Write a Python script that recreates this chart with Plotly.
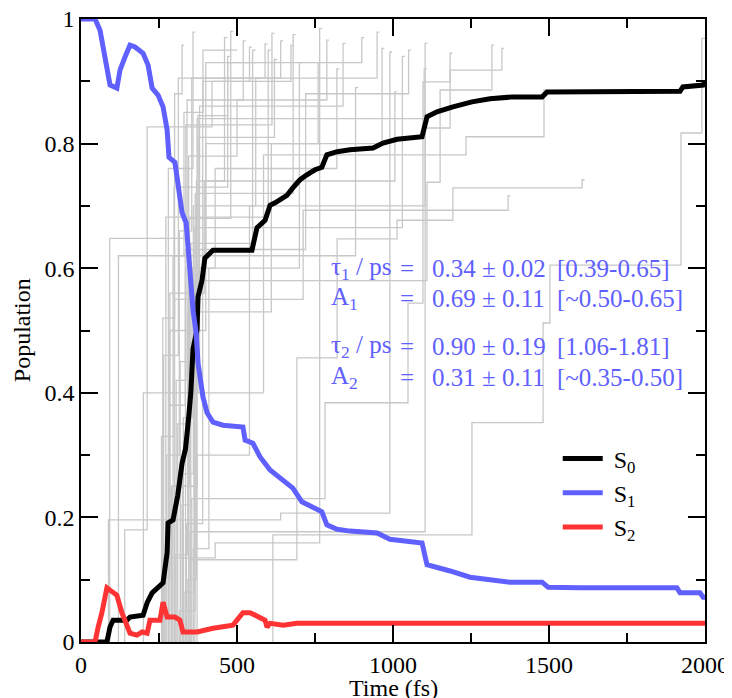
import plotly.graph_objects as go

# population curves (time in fs)
s0_time = [0, 83, 93, 103, 147, 157, 199, 212, 228, 247, 263, 276, 279, 295, 310, 324, 335, 345, 352, 359,
           372, 375, 388, 397, 423, 548, 564, 590, 606, 622, 660, 679, 702, 724, 750, 772, 788, 821, 862,
           936, 968, 1013, 1093, 1109, 1141, 1192, 1253, 1311, 1385, 1478, 1494, 1920, 1929, 1994, 2000]
s0_pop = [0, 0, 0.024, 0.035, 0.035, 0.040, 0.043, 0.063, 0.079, 0.087, 0.095, 0.143, 0.191, 0.196, 0.235,
          0.287, 0.310, 0.360, 0.400, 0.470, 0.501, 0.554, 0.581, 0.616, 0.629, 0.629, 0.665, 0.677, 0.701,
          0.705, 0.717, 0.729, 0.742, 0.750, 0.758, 0.762, 0.782, 0.787, 0.790, 0.793, 0.801, 0.807, 0.811,
          0.843, 0.851, 0.859, 0.867, 0.872, 0.875, 0.875, 0.883, 0.884, 0.891, 0.894, 0.899]

s1_time = [0, 45, 61, 77, 93, 115, 125, 141, 157, 173, 199, 215, 228, 247, 263, 276, 282, 301, 311, 324,
           337, 349, 359, 369, 375, 391, 404, 423, 455, 519, 526, 551, 574, 606, 638, 679, 708, 744, 772,
           788, 821, 862, 949, 990, 1045, 1093, 1109, 1141, 1183, 1247, 1311, 1375, 1478, 1497, 1599,
           1910, 1920, 1984, 1994, 2000]
s1_pop = [1, 1, 0.982, 0.939, 0.894, 0.889, 0.918, 0.939, 0.958, 0.955, 0.945, 0.926, 0.889, 0.878, 0.859,
          0.822, 0.778, 0.770, 0.730, 0.689, 0.673, 0.592, 0.533, 0.496, 0.448, 0.393, 0.368, 0.353, 0.348,
          0.345, 0.324, 0.319, 0.297, 0.276, 0.263, 0.247, 0.225, 0.217, 0.209, 0.188, 0.181, 0.178, 0.175,
          0.165, 0.162, 0.159, 0.124, 0.120, 0.114, 0.104, 0.0995, 0.096, 0.096, 0.088, 0.087, 0.087, 0.079,
          0.079, 0.072, 0.072]

s2_time = [0, 45, 55, 67, 83, 99, 115, 131, 147, 157, 179, 196, 212, 221, 253, 263, 276, 301, 317, 327,
           372, 423, 487, 519, 542, 564, 590, 596, 606, 648, 692, 2000]
s2_pop = [0, 0, 0.024, 0.047, 0.087, 0.080, 0.075, 0.047, 0.024, 0.014, 0.011, 0.016, 0.014, 0.035, 0.035,
          0.064, 0.040, 0.040, 0.035, 0.016, 0.016, 0.022, 0.027, 0.047, 0.047, 0.042, 0.035, 0.024, 0.030,
          0.027, 0.030, 0.030]

# single trajectories (grey staircases): jump times, level after each jump, end time
traj_jumps = [
    [88, 640, 990],
    [92, 336, 612],
    [140, 212, 420, 673],
    [272, 600],
    [615, 1253, 1481, 1503, 1923, 1990],
    [345, 692, 821, 1013, 1192, 1606],
    [300, 712, 1369],
    [260, 430, 765],
    [350, 1103],
    [355, 782, 1048, 1096, 1183],
    [262, 300, 324],
    [280, 359],
    [295, 330, 391],
    [310, 345, 500, 788],
    [318, 380, 840],
    [325, 360, 560, 949],
    [335, 400, 965],
    [340, 370, 1006],
    [350, 585, 1234, 1484],
    [365, 1109, 1151, 1317],
    [372, 540, 1103, 1183, 1349],
    [268, 285, 400],
    [275, 315, 355, 590],
    [285, 395, 460],
    [305, 340, 520],
    [320, 352, 550],
    [345, 378, 620],
    [360, 410, 700],
    [330, 362, 880],
    [290, 372, 1100],
    [258, 298, 470, 900],
    [265, 312, 640],
    [282, 334, 720, 1050],
    [292, 348, 480],
    [302, 342, 610, 760],
    [315, 366, 680],
    [328, 356, 430, 820],
    [338, 390, 540],
    [120, 365, 1030],
    [200, 375, 470],
]
traj_levels = [
    [0.196, 0.207, 0.947],
    [0.648, 0.830, 0.977],
    [0.180, 0.827, 0.900, 0.958],
    [0.682, 0.950],
    [0.172, 0.352, 0.512, 0.605, 0.817, 0.969],
    [0.132, 0.456, 0.647, 0.677, 0.729, 0.742],
    [0.550, 0.693, 0.716],
    [0.135, 0.159, 0.985],
    [0.177, 0.961],
    [0.230, 0.384, 0.544, 0.899, 0.945],
    [0.520, 0.880, 0.958],
    [0.760, 0.979],
    [0.620, 0.850, 0.950],
    [0.350, 0.780, 0.870, 0.966],
    [0.450, 0.860, 0.961],
    [0.270, 0.700, 0.905, 0.979],
    [0.600, 0.800, 0.953],
    [0.100, 0.740, 0.883],
    [0.400, 0.782, 0.811, 0.886],
    [0.580, 0.738, 0.886, 0.958],
    [0.300, 0.700, 0.825, 0.918, 0.953],
    [0.103, 0.500, 0.930],
    [0.300, 0.660, 0.905, 0.960],
    [0.560, 0.740, 0.970],
    [0.420, 0.870, 0.965],
    [0.220, 0.640, 0.950],
    [0.480, 0.810, 0.935],
    [0.150, 0.600, 0.930],
    [0.080, 0.620, 0.890],
    [0.250, 0.840, 0.920],
    [0.330, 0.730, 0.930, 0.970],
    [0.460, 0.905, 0.965],
    [0.380, 0.630, 0.880, 0.950],
    [0.250, 0.680, 0.980],
    [0.140, 0.530, 0.800, 0.930],
    [0.050, 0.720, 0.975],
    [0.360, 0.600, 0.760, 0.920],
    [0.190, 0.900, 0.955],
    [0.620, 0.665, 0.940],
    [0.400, 0.845, 0.940],
]
traj_ends = [997, 620, 681, 608, 2000, 1614, 1376, 772, 1110, 1190, 330, 366, 500, 795, 848, 956, 972,
             1012, 1492, 1324, 1356, 560, 598, 470, 528, 560, 628, 708, 888, 1108,
             908, 648, 1058, 488, 768, 688, 828, 548, 1038, 478]

fit_rows = ["τ<sub>1</sub> / ps", "A<sub>1</sub>", "τ<sub>2</sub> / ps", "A<sub>2</sub>"]
fit_values = ["0.34 ± 0.02", "0.69 ± 0.11", "0.90 ± 0.19", "0.31 ± 0.11"]
fit_ranges = ["[0.39-0.65]", "[~0.50-0.65]", "[1.06-1.81]", "[~0.35-0.50]"]
fit_y = [0.600, 0.551, 0.474, 0.425]

blue = "#6060ff"
serif = "Liberation Serif"

fig = go.Figure()

# grey staircases first so they sit underneath
for jumps, levels, end in zip(traj_jumps, traj_levels, traj_ends):
    fig.add_trace(go.Scatter(x=jumps + [end], y=[0] + levels, mode="lines",
                             line=dict(color="#c8c8c8", width=1.3, shape="vh"),
                             showlegend=False, hoverinfo="skip"))

fig.add_trace(go.Scatter(x=s0_time, y=s0_pop, mode="lines", name="\u00a0S<sub>0</sub>",
                         line=dict(color="black", width=5)))
fig.add_trace(go.Scatter(x=s1_time, y=s1_pop, mode="lines", name="\u00a0S<sub>1</sub>",
                         line=dict(color=blue, width=5)))
fig.add_trace(go.Scatter(x=s2_time, y=s2_pop, mode="lines", name="\u00a0S<sub>2</sub>",
                         line=dict(color="#ff3333", width=5)))

# fit results
for i in range(len(fit_rows)):
    fig.add_annotation(x=795, y=fit_y[i], text=fit_rows[i], showarrow=False, xanchor="left",
                       yanchor="middle", font=dict(family=serif, size=25, color=blue))
    fig.add_annotation(x=1015, y=fit_y[i], text="=", showarrow=False, xanchor="left",
                       yanchor="middle", font=dict(family=serif, size=25, color=blue))
    fig.add_annotation(x=1117, y=fit_y[i], text=fit_values[i], showarrow=False, xanchor="left",
                       yanchor="middle", font=dict(family=serif, size=25, color=blue))
    fig.add_annotation(x=1518, y=fit_y[i], text=fit_ranges[i], showarrow=False, xanchor="left",
                       yanchor="middle", font=dict(family=serif, size=25, color=blue))

# axis titles placed as text so they sit where the reference has them
fig.add_annotation(x=0.5, y=-0.074, xref="paper", yref="paper", text="Time (fs)", showarrow=False,
                   xanchor="center", yanchor="middle", font=dict(family=serif, size=24, color="black"))
fig.add_annotation(x=-0.095, y=0.5, xref="paper", yref="paper", text="Population", showarrow=False,
                   textangle=-90, xanchor="center", yanchor="middle",
                   font=dict(family=serif, size=24, color="black"))

axis_style = dict(showline=True, linecolor="black", linewidth=1.5, mirror="ticks", ticks="inside",
                  ticklen=17, tickwidth=1.5, tickcolor="black", showgrid=False, zeroline=False,
                  automargin=False, ticklabeloverflow="allow",
                  tickfont=dict(family=serif, size=24, color="black"))

fig.update_xaxes(range=[0, 2000], dtick=500, tick0=0,
                 minor=dict(ticks="inside", ticklen=9, tickwidth=1.5, tickcolor="black", dtick=250,
                            showgrid=False),
                 **axis_style)
fig.update_yaxes(range=[0, 1], dtick=0.2, tick0=0,
                 minor=dict(ticks="inside", ticklen=9, tickwidth=1.5, tickcolor="black", dtick=0.1,
                            showgrid=False),
                 **axis_style)

# the page adds an 8px body margin, so the figure is a little smaller than the window
fig.update_layout(
    width=724, height=690,
    margin=dict(l=73, r=27, t=11, b=56),
    plot_bgcolor="white", paper_bgcolor="white",
    legend=dict(x=0.764, y=0.33, xanchor="left", yanchor="top", bgcolor="rgba(0,0,0,0)",
                itemwidth=40, font=dict(family=serif, size=24, color="black"), tracegroupgap=0),
)

fig.write_html("out.html")
